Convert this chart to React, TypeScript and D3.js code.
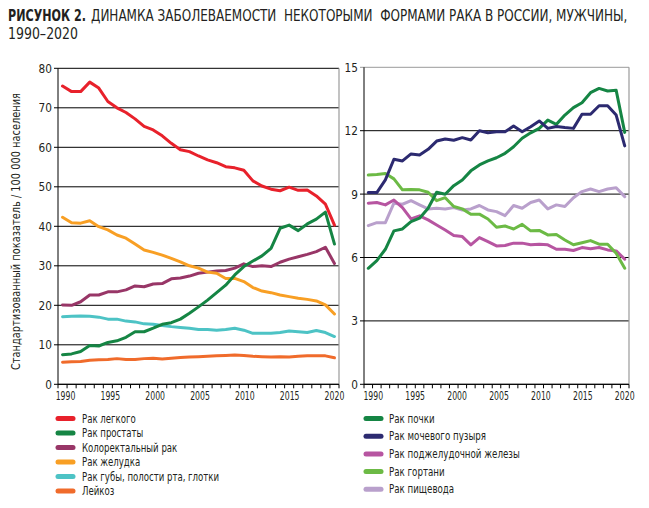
import React, { useLayoutEffect, useRef, useState } from "react";
import * as d3 from "d3";

const years = d3.range(1990, 2021);

// Left panel series (per 100 000)
const lung = [75.5, 74.1, 74.1, 76.5, 75.0, 71.6, 70.0, 68.8, 67.2, 65.3, 64.4, 62.9, 61.0, 59.4, 58.9, 57.8, 56.8, 56.1, 55.1, 54.8, 54.2, 51.5, 50.2, 49.4, 49.0, 49.9, 49.1, 49.2, 47.7, 45.6, 40.3];
const prostate = [7.5, 7.7, 8.3, 9.8, 9.7, 10.6, 11.0, 11.9, 13.3, 13.3, 14.2, 15.2, 15.6, 16.5, 18.0, 19.6, 21.3, 23.2, 25.1, 27.7, 29.8, 31.2, 32.5, 34.4, 39.5, 40.3, 38.9, 40.6, 41.8, 43.6, 35.5];
const colorectal = [20.1, 20.0, 20.9, 22.6, 22.6, 23.4, 23.4, 23.9, 24.9, 24.7, 25.4, 25.5, 26.7, 26.9, 27.4, 28.1, 28.4, 28.7, 28.8, 29.4, 30.5, 29.8, 30.0, 29.8, 30.9, 31.7, 32.3, 32.9, 33.6, 34.7, 30.6];
const stomach = [42.3, 40.9, 40.8, 41.4, 39.9, 39.1, 37.8, 37.0, 35.5, 34.0, 33.4, 32.7, 31.9, 31.0, 30.0, 29.4, 28.4, 28.1, 26.8, 26.8, 26.0, 24.5, 23.6, 23.2, 22.6, 22.2, 21.8, 21.5, 21.1, 20.1, 17.8];
const lipOral = [17.1, 17.2, 17.3, 17.2, 17.0, 16.5, 16.5, 16.0, 15.8, 15.3, 15.2, 14.9, 14.6, 14.4, 14.2, 13.9, 13.9, 13.7, 13.9, 14.2, 13.7, 12.9, 12.9, 12.9, 13.1, 13.5, 13.3, 13.1, 13.6, 13.1, 12.1];
const leukemia = [5.6, 5.7, 5.8, 6.1, 6.2, 6.3, 6.5, 6.3, 6.3, 6.5, 6.6, 6.4, 6.6, 6.8, 6.9, 7.0, 7.1, 7.2, 7.3, 7.4, 7.3, 7.1, 7.0, 6.9, 7.0, 6.9, 7.1, 7.2, 7.2, 7.2, 6.7];

// Right panel series
const kidney = [5.49, 5.85, 6.39, 7.26, 7.35, 7.7, 7.86, 8.33, 9.09, 8.99, 9.4, 9.67, 10.1, 10.38, 10.57, 10.72, 10.93, 11.24, 11.64, 11.9, 12.11, 12.5, 12.3, 12.74, 13.09, 13.32, 13.8, 14.0, 13.88, 13.91, 11.92];
const bladder = [9.07, 9.07, 9.67, 10.65, 10.57, 10.9, 10.85, 11.12, 11.51, 11.61, 11.55, 11.67, 11.56, 12.0, 11.9, 11.95, 11.95, 12.22, 11.95, 12.19, 12.46, 12.11, 12.2, 12.15, 12.11, 12.78, 12.78, 13.18, 13.18, 12.74, 11.28];
const pancreas = [8.57, 8.6, 8.49, 8.72, 8.36, 7.83, 7.97, 7.78, 7.54, 7.3, 7.04, 6.99, 6.6, 6.94, 6.75, 6.55, 6.57, 6.68, 6.68, 6.6, 6.63, 6.6, 6.39, 6.39, 6.33, 6.47, 6.41, 6.47, 6.36, 6.31, 5.92];
const larynx = [9.9, 9.93, 9.98, 9.72, 9.2, 9.22, 9.2, 9.09, 8.69, 8.83, 8.41, 8.3, 8.05, 8.05, 7.82, 7.43, 7.49, 7.35, 7.57, 7.26, 7.28, 7.07, 7.09, 6.83, 6.6, 6.7, 6.8, 6.63, 6.63, 6.2, 5.49];
const esophagus = [7.51, 7.65, 7.65, 8.57, 8.52, 8.69, 8.49, 8.3, 8.33, 8.3, 8.36, 8.25, 8.3, 8.46, 8.25, 8.17, 7.98, 8.46, 8.33, 8.6, 8.72, 8.3, 8.49, 8.41, 8.83, 9.12, 9.24, 9.12, 9.24, 9.3, 8.88];

const leftTicks = [0, 10, 20, 30, 40, 50, 60, 70, 80];
const rightTicks = [0, 3, 6, 9, 12, 15];
const yearLabels = [1990, 1995, 2000, 2005, 2010, 2015, 2020];

const leftSeries = [
  { name: "Рак легкого", values: lung, color: "#e8212b" },
  { name: "Рак простаты", values: prostate, color: "#158544" },
  { name: "Колоректальный рак", values: colorectal, color: "#983667" },
  { name: "Рак желудка", values: stomach, color: "#f89f24" },
  { name: "Рак губы, полости рта, глотки", values: lipOral, color: "#4dc3c5" },
  { name: "Лейкоз", values: leukemia, color: "#f06b2b" },
];
const rightSeries = [
  { name: "Рак почки", values: kidney, color: "#158544" },
  { name: "Рак мочевого пузыря", values: bladder, color: "#2c2a70" },
  { name: "Рак поджелудочной железы", values: pancreas, color: "#b755a1" },
  { name: "Рак гортани", values: larynx, color: "#6cba45" },
  { name: "Рак пищевода", values: esophagus, color: "#b9a0cc" },
];
const leftDrawOrder = [5, 4, 2, 3, 1, 0];
const rightDrawOrder = [4, 2, 3, 0, 1];

const FONT = "'DejaVu Sans Condensed', 'Liberation Sans Narrow', sans-serif";
const TXT = "#231f20";

function NarrowText({ x, y, sx, children, anchor, size }: any) {
  return (
    <g transform={`translate(${x},${y}) scale(${sx},1)`}>
      <text x={0} y={0} textAnchor={anchor || "start"} fontSize={size} fontFamily={FONT} fill={TXT}>
        {children}
      </text>
    </g>
  );
}

// Text squeezed horizontally to a target width (measured after layout)
function FitText({ x, y, width, size, weight, rotate, anchor, children }: any) {
  const ref = useRef<SVGTextElement>(null);
  const [sx, setSx] = useState(0.8);
  useLayoutEffect(() => {
    if (ref.current) {
      const w = ref.current.getComputedTextLength();
      if (w > 0) setSx(width / w);
    }
  }, [width]);
  const t = rotate ? `translate(${x},${y}) rotate(${rotate}) scale(${sx},1)` : `translate(${x},${y}) scale(${sx},1)`;
  return (
    <g transform={t}>
      <text
        ref={ref}
        x={0}
        y={0}
        textAnchor={anchor || "start"}
        fontSize={size}
        fontWeight={weight || "normal"}
        fontFamily={FONT}
        fill={TXT}
        style={{ whiteSpace: "pre" }}
      >
        {children}
      </text>
    </g>
  );
}

function Panel({ x0, x1, y0, y1, max, ticks, series, order, labelShift, topGray }: any) {
  const x = d3.scalePoint<number>().domain(years).range([x0, x1]).padding(0.5);
  const y = d3.scaleLinear().domain([0, max]).range([y1, y0]);
  const step = x.step();
  const line = d3
    .line<number>()
    .x((_, i) => x(years[i]) as number)
    .y((d) => y(d));
  const boundaries = d3.range(0, years.length + 1).map((i) => x0 + i * step);
  return (
    <g>
      {ticks.map((t: number) => (
        <g key={t}>
          <line x1={x0 - 4} x2={x1} y1={y(t)} y2={y(t)} stroke={t === max && topGray ? "#9a9a9a" : "#000"} strokeWidth={1} />
          <NarrowText x={x0 - 6} y={y(t) + 4.5} sx={0.9} anchor="end" size={13}>
            {t}
          </NarrowText>
        </g>
      ))}
      <line x1={x1} x2={x1} y1={y0} y2={y1} stroke="#9a9a9a" strokeWidth={1.2} />
      <line x1={x0} x2={x0} y1={y0} y2={y1} stroke="#000" strokeWidth={1} />
      <line x1={x0} x2={x1} y1={y1} y2={y1} stroke="#000" strokeWidth={1} />
      {boundaries.map((bx, i) => (
        <line key={i} x1={bx} x2={bx} y1={y1} y2={y1 + 4} stroke="#000" strokeWidth={1} />
      ))}
      {yearLabels.map((yr) => (
        <NarrowText
          key={yr}
          x={(x(yr) as number) + labelShift * (1 - (yr - 1990) / 30)}
          y={y1 + 16}
          sx={0.75}
          anchor="middle"
          size={11.5}
        >
          {yr}
        </NarrowText>
      ))}
      {order.map((k: number) => (
        <path
          key={k}
          d={line(series[k].values) as string}
          fill="none"
          stroke={series[k].color}
          strokeWidth={3}
          strokeLinejoin="round"
          strokeLinecap="round"
        />
      ))}
    </g>
  );
}

export default function App() {
  return (
    <svg width={649} height={508} style={{ position: "absolute", left: 0, top: 0 }}>
      <rect width={649} height={508} fill="#fff" />
      <FitText x={8} y={21} width={78} size={15} weight="bold">
        РИСУНОК 2.
      </FitText>
      <FitText x={91} y={21} width={537} size={15}>
        ДИНАМКА ЗАБОЛЕВАЕМОСТИ  НЕКОТОРЫМИ  ФОРМАМИ РАКА В РОССИИ, МУЖЧИНЫ,
      </FitText>
      <FitText x={8} y={39} width={70} size={15}>
        1990–2020
      </FitText>
      <FitText x={20} y={231.5} width={277} size={13} rotate={-90} anchor="middle">
        Стандартизованный показатель / 100 000 населения
      </FitText>
      <Panel x0={58} x1={339} y0={68.3} y1={384.3} max={80} ticks={leftTicks} series={leftSeries} order={leftDrawOrder} labelShift={3} topGray={false} />
      <Panel x0={364} x1={629} y0={67.3} y1={384.3} max={15} ticks={rightTicks} series={rightSeries} order={rightDrawOrder} labelShift={5} topGray={true} />
      {leftSeries.map((s, i) => (
        <g key={s.name}>
          <line x1={58} x2={73} y1={418.5 + i * 14.5} y2={418.5 + i * 14.5} stroke={s.color} strokeWidth={5} strokeLinecap="round" />
          <NarrowText x={82} y={422.5 + i * 14.5} sx={0.83} size={11.5}>
            {s.name}
          </NarrowText>
        </g>
      ))}
      {rightSeries.map((s, i) => (
        <g key={s.name}>
          <line x1={366} x2={381} y1={418.5 + i * 17.7} y2={418.5 + i * 17.7} stroke={s.color} strokeWidth={5} strokeLinecap="round" />
          <NarrowText x={389} y={422.5 + i * 17.7} sx={0.84} size={11.5}>
            {s.name}
          </NarrowText>
        </g>
      ))}
    </svg>
  );
}
